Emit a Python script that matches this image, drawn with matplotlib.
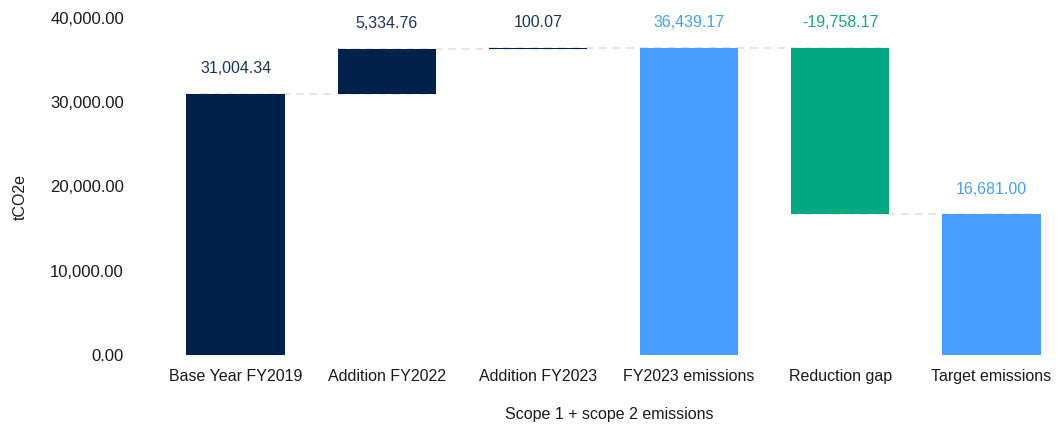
import matplotlib.pyplot as plt
from matplotlib.ticker import FuncFormatter

plt.rcParams['font.family'] = ['Liberation Sans', 'DejaVu Sans']

categories = ["Base Year FY2019", "Addition FY2022", "Addition FY2023",
              "FY2023 emissions", "Reduction gap", "Target emissions"]
values = [31004.34, 5334.76, 100.07, 36439.17, -19758.17, 16681.00]
# "step" bars float on the running total, "total" bars start at zero
kinds = ["total", "step", "step", "total", "step", "total"]

NAVY = '#00214a'
BLUE = '#489dff'
GREEN = '#00a97f'
bar_colors = [NAVY, NAVY, NAVY, BLUE, GREEN, BLUE]
label_colors = ['#1b3558', '#1b3558', '#1b3558', BLUE, '#16a67e', BLUE]

bottoms, tops, ends = [], [], []
running = 0.0
for v, k in zip(values, kinds):
    if k == "total":
        running = v
        bottoms.append(0.0)
        tops.append(v)
    else:
        start = running
        running = running + v
        bottoms.append(min(start, running))
        tops.append(max(start, running))
    ends.append(running)

fig = plt.figure(figsize=(10.58, 4.28), dpi=100)
ax = fig.add_axes([160 / 1058, 73 / 428, 898 / 1058, 337 / 428])

x = list(range(len(categories)))
width = 0.65
heights = [t - b for t, b in zip(tops, bottoms)]
ax.bar(x, heights, bottom=bottoms, width=width, color=bar_colors, zorder=2)

# dashed connectors at the running total carried from one bar to the next
for i in range(len(categories) - 1):
    level = ends[i]
    ax.plot([i - width / 2, i + 1 + width / 2], [level, level],
            color='#dedede', lw=1.1, ls=(0, (5, 4)), zorder=1)

for i, v in enumerate(values):
    ax.annotate(f"{v:,.2f}", (i, tops[i]), xytext=(0, 18), textcoords='offset points',
                ha='center', va='center', fontsize=11.5, color=label_colors[i],
                annotation_clip=False)

ax.set_xlim(-0.5, 5.44)
ax.set_ylim(0, 40000)
ax.set_yticks([0, 10000, 20000, 30000, 40000])
ax.yaxis.set_major_formatter(FuncFormatter(lambda v, p: f"{v:,.2f}"))
ax.set_xticks(x)
ax.set_xticklabels(categories)
ax.tick_params(axis='both', length=0, labelsize=11.5, colors='#1a1a1a')
ax.tick_params(axis='y', pad=26, labelsize=12)
ax.tick_params(axis='x', pad=10)
for s in ax.spines.values():
    s.set_visible(False)

ax.set_ylabel("tCO2e", fontsize=11.5, color='#1a1a1a')
ax.yaxis.set_label_coords(-132 / 898, 0.47)
ax.set_xlabel("Scope 1 + scope 2 emissions", fontsize=11.5, color='#1a1a1a', labelpad=17)

fig.savefig('out.png', dpi=100)
